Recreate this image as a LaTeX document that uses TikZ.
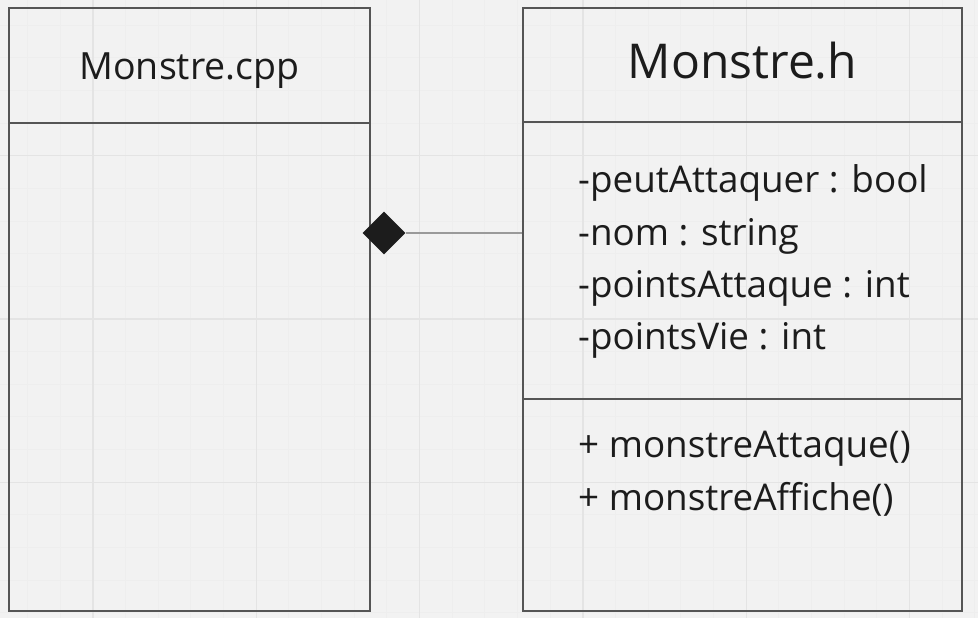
\documentclass[tikz,border=0pt]{standalone}
\usepackage{fontspec}
\setmainfont{Open Sans}
\usetikzlibrary{shapes.geometric}

\definecolor{fond}{HTML}{F2F2F2}
\definecolor{grillefine}{HTML}{EEEEEE}
\definecolor{grillegrosse}{HTML}{E4E4E4}
\definecolor{trait}{HTML}{555555}
\definecolor{lien}{HTML}{9A9A9A}
\definecolor{encre}{HTML}{1C1C1C}

\begin{document}
\begin{tikzpicture}[x=1pt,y=-1pt,
	boite/.style={draw=trait,line width=1.2pt,rectangle,inner sep=0pt},
	texte/.style={text=encre,inner sep=0pt,anchor=base west,font=\fontsize{36.8}{44}\selectfont},
	titre/.style={text=encre,inner sep=0pt,anchor=base}]

	\useasboundingbox (0,0) rectangle (978,618);
	\fill[fond] (0,0) rectangle (978,618);

	% grille de fond
	\foreach \x in {0,...,29}
	{
		\draw[grillefine,line width=1pt] (27.68+32.66*\x,0) -- ++(0,618);
	}
	\foreach \y in {0,...,18}
	{
		\draw[grillefine,line width=1pt] (0,25.06+32.66*\y) -- ++(978,0);
	}
	\foreach \x in {93,256.3,419.6,582.9,746.2,909.5}
	{
		\draw[grillegrosse,line width=1.2pt] (\x,0) -- ++(0,618);
	}
	\foreach \y in {155.7,319,482.3}
	{
		\draw[grillegrosse,line width=1.2pt] (0,\y) -- ++(978,0);
	}

	% Monstre.cpp
	\node[boite,minimum width=361,minimum height=115] (cppTete) at (189.5,65.5) {};
	\node[boite,minimum width=361,minimum height=488] (cppCorps) at (189.5,367) {};
	\node[titre,font=\fontsize{37.5}{45}\selectfont] (cppNom) at (189.5,80) {Monstre.cpp};

	% Monstre.h
	\node[boite,minimum width=439,minimum height=114] (hTete) at (742.5,65) {};
	\node[boite,minimum width=439,minimum height=277] (hAttr) at (742.5,260.5) {};
	\node[boite,minimum width=439,minimum height=212] (hMeth) at (742.5,505) {};
	\node[titre,font=\fontsize{48}{56}\selectfont] (hNom) at (742.5,78.3) {Monstre.h};

	\foreach \txt [count=\i] in {-peutAttaquer : bool,-nom : string,-pointsAttaque : int,-pointsVie : int}
	{
		\node[texte] (attr\i) at (578,140.4+52.3*\i) {\txt};
	}
	\foreach \txt [count=\i] in {+ monstreAttaque(),+ monstreAffiche()}
	{
		\node[texte] (meth\i) at (578,405.4+52.3*\i) {\txt};
	}

	% composition
	\node[diamond,fill=encre,inner sep=0pt,minimum width=43,minimum height=43] (losange) at (384,233) {};
	\draw[lien,line width=1.2pt] (losange.east) -- (hAttr.west |- losange.east);

\end{tikzpicture}
\end{document}
